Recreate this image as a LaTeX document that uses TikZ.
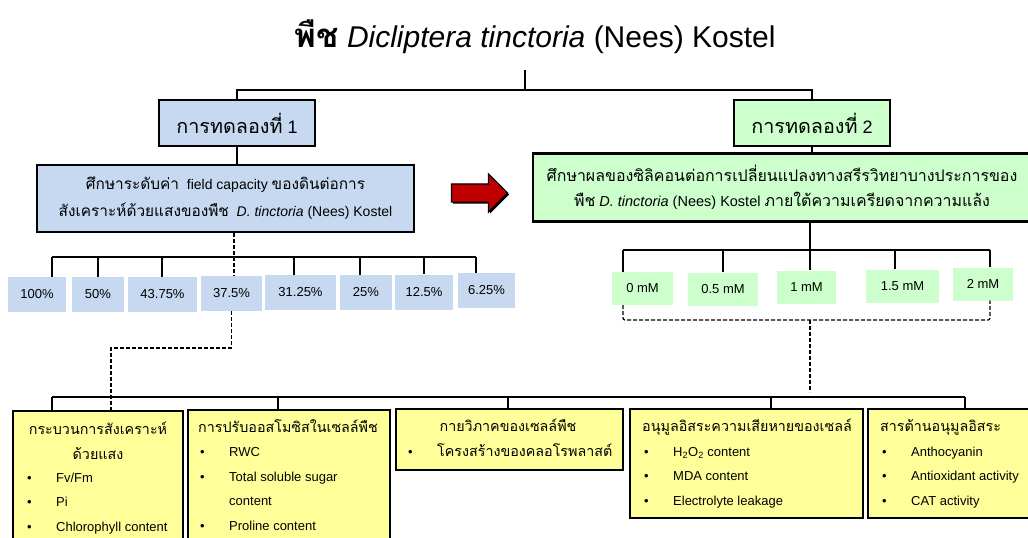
\documentclass[tikz,border=0pt]{standalone}
\usepackage{fontspec}
\setmainfont{Liberation Sans}
\newfontfamily\thaifont[Script=Thai, Scale=1.1]{Loma}
\usetikzlibrary{positioning, shapes.arrows, shadows}
\definecolor{expBlue}{RGB}{198,217,241}
\definecolor{expGreen}{RGB}{204,255,204}
\definecolor{resYellow}{RGB}{255,255,153}
\definecolor{arrRed}{RGB}{192,0,0}
\newcommand{\thai}[1]{{\thaifont #1}}
\newcommand{\blt}{\makebox[29pt][l]{\textbullet}}

\begin{document}
\begin{tikzpicture}[x=1pt, y=-1pt,
  expbox/.style={draw, line width=1.6pt, minimum height=46pt, minimum width=156pt, inner sep=0pt, font=\fontsize{18}{22}\selectfont},
  studybox/.style={draw, line width=2.4pt, inner sep=0pt, align=center, font=\fontsize{14}{27}\selectfont},
  lvl/.style={fill=expBlue, minimum height=35pt, inner sep=0pt, font=\fontsize{13}{15}\selectfont},
  si/.style={fill=expGreen, minimum height=33pt, inner sep=0pt, font=\fontsize{13}{15}\selectfont},
  resbox/.style={draw, fill=resYellow, line width=1.6pt, inner sep=0pt},
  restext/.style={inner sep=0pt, align=left, font=\fontsize{13}{24.5}\selectfont},
  link/.style={line width=1.2pt},
  dlink/.style={line width=1.2pt, dash pattern=on 4pt off 2pt},
]
\useasboundingbox (0,0) rectangle (1028,538);

% Title and the two experiments
\node[font=\fontsize{30}{34}\selectfont, anchor=base, inner sep=0pt] (title) at (535,47)
  {\thai{\bfseries พืช} \textit{Dicliptera tinctoria} (Nees) Kostel};
\node[expbox, fill=expBlue] (exp1) at (237,123) {\thai{การทดลองที่} 1};
\node[expbox, fill=expGreen] (exp2) at (812,123) {\thai{การทดลองที่} 2};

\coordinate (tstem) at (525,70);
\coordinate (tjoin) at (525,90);
\draw[link] (tstem) -- (tjoin);
\draw[link] (exp1.north) |- (tjoin) -| (exp2.north);

\node[studybox, fill=expBlue, minimum width=377pt, minimum height=67pt] (study1) at (225.5,198.5)
  {\thai{ศึกษาระดับค่า}\ \ field capacity \thai{ของดินต่อการ}\\
   \thai{สังเคราะห์ด้วยแสงของพืช}\ \ \textit{D. tinctoria} (Nees) Kostel};
\node[studybox, fill=expGreen, minimum width=498pt, minimum height=68pt, font=\fontsize{14.5}{25}\selectfont] (study2) at (782,187.5)
  {\thai{ศึกษาผลของซิลิคอนต่อการเปลี่ยนแปลงทางสรีรวิทยาบางประการของ}\\
   \thai{พืช} \textit{D. tinctoria} (Nees) Kostel \thai{ภายใต้ความเครียดจากความแล้ง}};
\draw[link] (exp1.south) -- (exp1.south |- study1.north);
\draw[link] (exp2.south) -- (exp2.south |- study2.north);

\node[single arrow, draw, fill=arrRed, line width=1.2pt, inner sep=8.5pt,
  single arrow head extend=10pt, minimum height=56pt,
  drop shadow={shadow xshift=1.5pt, shadow yshift=-1.5pt, opacity=1, fill=black}] (go) at (475,193) {};

% Field capacity levels
\foreach \n/\cx/\cy/\w/\t in {p1/37/294.5/58/100\%, p2/98/294.5/52/50\%, p3/162.5/294.5/69/43.75\%,
  p4/231.5/293.5/61/37.5\%, p5/300.5/292.5/71/31.25\%, p6/366/292.5/52/25\%,
  p7/424/292/58/12.5\%, p8/486.5/290.5/57/6.25\%}
  \node[lvl, minimum width=\w pt] (\n) at (\cx,\cy) {\t};

\foreach \i/\tx in {1/52, 2/98, 3/162, 4/234, 5/294, 6/360, 7/424, 8/476}
  \coordinate (k\i) at (\tx,257);
\draw[link] (k1) -- (k8);
\foreach \i in {1,2,3,5,6,7,8}
  \draw[link] (k\i) -- (k\i |- p\i.north);
\draw[dlink] (k4 |- study1.south) -- (k4 |- p4.north);

% Silicon levels
\foreach \n/\cx/\cy/\w/\t in {g1/642.5/288.5/61/0 mM, g2/723/289/70/0.5 mM, g3/806.5/287/59/1 mM,
  g4/902.5/286/73/1.5 mM, g5/983/284/60/2 mM}
  \node[si, minimum width=\w pt] (\n) at (\cx,\cy) {\t};

\foreach \i/\tx in {1/623, 2/723, 3/810, 4/895, 5/990}
  \coordinate (m\i) at (\tx,250);
\draw[link] (m1) -- (m5);
\draw[link] (m3 |- study2.south) -- (m3);
\foreach \i in {1,2,3,4,5}
  \draw[link] (m\i) -- (m\i |- g\i.north);

\coordinate (gl) at (623,320);
\coordinate (gm) at (810,320);
\coordinate (gr) at (990,320);
\draw[dlink, rounded corners=2pt] (gl |- g1.south) -- (gl) -- (gr) -- (gr |- g5.south);
\draw[dlink] (gm) -- (810,392);

% Measured parameters
\node[resbox, minimum width=170pt, minimum height=135pt] (r1) at (98,478.5) {};
\node[resbox, minimum width=202pt, minimum height=136pt] (r2) at (289,478) {};
\node[resbox, minimum width=227pt, minimum height=61pt] (r3) at (509.5,439.5) {};
\node[resbox, minimum width=233pt, minimum height=109pt] (r4) at (746.5,463.5) {};
\node[resbox, minimum width=168pt, minimum height=109pt] (r5) at (952,463.5) {};

\foreach \i/\tx in {1/52, 2/278, 3/508, 4/771, 5/965}
  \coordinate (b\i) at (\tx,397);
\draw[link] (b1) -- (b5);
\foreach \i in {1,...,5}
  \draw[link] (b\i) -- (b\i |- r\i.north);

\coordinate (dl) at (111,348);
\draw[dlink] (p4.south) |- (dl) -- (dl |- r1.north);

% texts (base anchor sits on the last line)
\node[restext, align=center, anchor=base] (h1) at (98,459)
  {\thai{กระบวนการสังเคราะห์}\\\thai{ด้วยแสง}};
\node[restext, anchor=base west] (l1) at (27,531)
  {\blt Fv/Fm\\\blt Pi\\\blt Chlorophyll content};
\node[restext, anchor=base west] (l2) at (198,530)
  {\thai{การปรับออสโมซิสในเซลล์พืช}\\
   \hspace*{2pt}\blt RWC\\
   \hspace*{2pt}\blt Total soluble sugar\\
   \hspace*{31pt}content\\
   \hspace*{2pt}\blt Proline content};
\node[restext, anchor=base] (h3) at (508,431) {\thai{กายวิภาคของเซลล์พืช}};
\node[restext, anchor=base west] (l3) at (408,456) {\blt \thai{โครงสร้างของคลอโรพลาสต์}};
\node[restext, anchor=base west] (l4) at (642,505)
  {\thai{อนุมูลอิสระความเสียหายของเซลล์}\\
   \hspace*{2pt}\blt H\textsubscript{2}O\textsubscript{2} content\\
   \hspace*{2pt}\blt MDA content\\
   \hspace*{2pt}\blt Electrolyte leakage};
\node[restext, anchor=base west] (l5) at (880,505)
  {\thai{สารต้านอนุมูลอิสระ}\\
   \hspace*{2pt}\blt Anthocyanin\\
   \hspace*{2pt}\blt Antioxidant activity\\
   \hspace*{2pt}\blt CAT activity};
\end{tikzpicture}
\end{document}
